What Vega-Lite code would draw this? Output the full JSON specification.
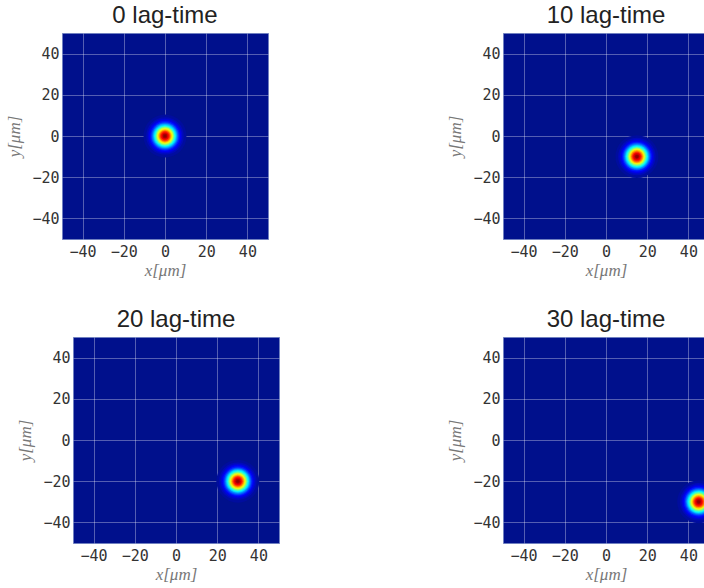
{
  "$schema": "https://vega.github.io/schema/vega-lite/v6.json",
  "padding": {"left": 5, "top": 3, "right": 0, "bottom": 0},
  "background": "white",
  "config": {
    "view": {"fill": "#00108c", "stroke": "#7080c0", "strokeWidth": 1},
    "axis": {"grid": true, "gridColor": "#ffffff", "gridOpacity": 0.33, "gridWidth": 1, "ticks": false, "domain": false, "labelFont": "DejaVu Sans Mono", "labelFontSize": 15, "labelColor": "#333333", "labelOverlap": false, "titleFont": "Liberation Serif", "titleFontStyle": "italic", "titleFontWeight": "normal", "titleFontSize": 17, "titleColor": "#777777", "zindex": 1},
    "axisX": {"labelPadding": 5, "titlePadding": 3},
    "axisY": {"labelPadding": 3, "titlePadding": 8},
    "title": {"font": "Liberation Sans", "fontSize": 24, "fontWeight": "normal", "color": "#222222", "offset": 5}
  },
  "datasets": {
    "blobs": [
      {"lag":0,"x":0,"y":0,"level":0.02,"r":11.75},{"lag":0,"x":0,"y":0,"level":0.05,"r":10.28},{"lag":0,"x":0,"y":0,"level":0.08,"r":9.44},{"lag":0,"x":0,"y":0,"level":0.11,"r":8.82},{"lag":0,"x":0,"y":0,"level":0.15,"r":8.18},{"lag":0,"x":0,"y":0,"level":0.2,"r":7.54},{"lag":0,"x":0,"y":0,"level":0.25,"r":7.00},{"lag":0,"x":0,"y":0,"level":0.3,"r":6.52},{"lag":0,"x":0,"y":0,"level":0.35,"r":6.09},{"lag":0,"x":0,"y":0,"level":0.4,"r":5.68},{"lag":0,"x":0,"y":0,"level":0.45,"r":5.31},{"lag":0,"x":0,"y":0,"level":0.5,"r":4.94},{"lag":0,"x":0,"y":0,"level":0.55,"r":4.60},{"lag":0,"x":0,"y":0,"level":0.6,"r":4.24},{"lag":0,"x":0,"y":0,"level":0.65,"r":3.90},{"lag":0,"x":0,"y":0,"level":0.7,"r":3.55},{"lag":0,"x":0,"y":0,"level":0.75,"r":3.18},{"lag":0,"x":0,"y":0,"level":0.8,"r":2.81},{"lag":0,"x":0,"y":0,"level":0.85,"r":2.40},{"lag":0,"x":0,"y":0,"level":0.9,"r":1.92},{"lag":0,"x":0,"y":0,"level":0.95,"r":1.35},{"lag":0,"x":0,"y":0,"level":0.98,"r":0.84},
      {"lag":10,"x":15,"y":-10,"level":0.02,"r":11.75},{"lag":10,"x":15,"y":-10,"level":0.05,"r":10.28},{"lag":10,"x":15,"y":-10,"level":0.08,"r":9.44},{"lag":10,"x":15,"y":-10,"level":0.11,"r":8.82},{"lag":10,"x":15,"y":-10,"level":0.15,"r":8.18},{"lag":10,"x":15,"y":-10,"level":0.2,"r":7.54},{"lag":10,"x":15,"y":-10,"level":0.25,"r":7.00},{"lag":10,"x":15,"y":-10,"level":0.3,"r":6.52},{"lag":10,"x":15,"y":-10,"level":0.35,"r":6.09},{"lag":10,"x":15,"y":-10,"level":0.4,"r":5.68},{"lag":10,"x":15,"y":-10,"level":0.45,"r":5.31},{"lag":10,"x":15,"y":-10,"level":0.5,"r":4.94},{"lag":10,"x":15,"y":-10,"level":0.55,"r":4.60},{"lag":10,"x":15,"y":-10,"level":0.6,"r":4.24},{"lag":10,"x":15,"y":-10,"level":0.65,"r":3.90},{"lag":10,"x":15,"y":-10,"level":0.7,"r":3.55},{"lag":10,"x":15,"y":-10,"level":0.75,"r":3.18},{"lag":10,"x":15,"y":-10,"level":0.8,"r":2.81},{"lag":10,"x":15,"y":-10,"level":0.85,"r":2.40},{"lag":10,"x":15,"y":-10,"level":0.9,"r":1.92},{"lag":10,"x":15,"y":-10,"level":0.95,"r":1.35},{"lag":10,"x":15,"y":-10,"level":0.98,"r":0.84},
      {"lag":20,"x":30,"y":-20,"level":0.02,"r":11.75},{"lag":20,"x":30,"y":-20,"level":0.05,"r":10.28},{"lag":20,"x":30,"y":-20,"level":0.08,"r":9.44},{"lag":20,"x":30,"y":-20,"level":0.11,"r":8.82},{"lag":20,"x":30,"y":-20,"level":0.15,"r":8.18},{"lag":20,"x":30,"y":-20,"level":0.2,"r":7.54},{"lag":20,"x":30,"y":-20,"level":0.25,"r":7.00},{"lag":20,"x":30,"y":-20,"level":0.3,"r":6.52},{"lag":20,"x":30,"y":-20,"level":0.35,"r":6.09},{"lag":20,"x":30,"y":-20,"level":0.4,"r":5.68},{"lag":20,"x":30,"y":-20,"level":0.45,"r":5.31},{"lag":20,"x":30,"y":-20,"level":0.5,"r":4.94},{"lag":20,"x":30,"y":-20,"level":0.55,"r":4.60},{"lag":20,"x":30,"y":-20,"level":0.6,"r":4.24},{"lag":20,"x":30,"y":-20,"level":0.65,"r":3.90},{"lag":20,"x":30,"y":-20,"level":0.7,"r":3.55},{"lag":20,"x":30,"y":-20,"level":0.75,"r":3.18},{"lag":20,"x":30,"y":-20,"level":0.8,"r":2.81},{"lag":20,"x":30,"y":-20,"level":0.85,"r":2.40},{"lag":20,"x":30,"y":-20,"level":0.9,"r":1.92},{"lag":20,"x":30,"y":-20,"level":0.95,"r":1.35},{"lag":20,"x":30,"y":-20,"level":0.98,"r":0.84},
      {"lag":30,"x":45,"y":-30,"level":0.02,"r":11.75},{"lag":30,"x":45,"y":-30,"level":0.05,"r":10.28},{"lag":30,"x":45,"y":-30,"level":0.08,"r":9.44},{"lag":30,"x":45,"y":-30,"level":0.11,"r":8.82},{"lag":30,"x":45,"y":-30,"level":0.15,"r":8.18},{"lag":30,"x":45,"y":-30,"level":0.2,"r":7.54},{"lag":30,"x":45,"y":-30,"level":0.25,"r":7.00},{"lag":30,"x":45,"y":-30,"level":0.3,"r":6.52},{"lag":30,"x":45,"y":-30,"level":0.35,"r":6.09},{"lag":30,"x":45,"y":-30,"level":0.4,"r":5.68},{"lag":30,"x":45,"y":-30,"level":0.45,"r":5.31},{"lag":30,"x":45,"y":-30,"level":0.5,"r":4.94},{"lag":30,"x":45,"y":-30,"level":0.55,"r":4.60},{"lag":30,"x":45,"y":-30,"level":0.6,"r":4.24},{"lag":30,"x":45,"y":-30,"level":0.65,"r":3.90},{"lag":30,"x":45,"y":-30,"level":0.7,"r":3.55},{"lag":30,"x":45,"y":-30,"level":0.75,"r":3.18},{"lag":30,"x":45,"y":-30,"level":0.8,"r":2.81},{"lag":30,"x":45,"y":-30,"level":0.85,"r":2.40},{"lag":30,"x":45,"y":-30,"level":0.9,"r":1.92},{"lag":30,"x":45,"y":-30,"level":0.95,"r":1.35},{"lag":30,"x":45,"y":-30,"level":0.98,"r":0.84}
    ]
  },
  "spacing": 28,
  "vconcat": [
    {
      "spacing": 177,
      "hconcat": [
        {
          "title": "0 lag-time", "width": 206, "height": 206,
          "data": {"name": "blobs"},
          "transform": [{"filter": "datum.lag == 0"}],
          "mark": {"type": "circle", "opacity": 1, "strokeWidth": 0, "clip": true},
          "encoding": {
            "x": {"field": "x", "type": "quantitative", "scale": {"domain": [-50, 50], "nice": false}, "axis": {"title": "x[μm]", "values": [-40, -20, 0, 20, 40]}},
            "y": {"field": "y", "type": "quantitative", "scale": {"domain": [-50, 50], "nice": false}, "axis": {"title": "y[μm]", "values": [-40, -20, 0, 20, 40]}},
            "size": {"field": "r", "type": "quantitative", "scale": {"type": "pow", "exponent": 2, "domain": [0, 10], "range": [0, 1333]}, "legend": null},
            "color": {"field": "level", "type": "quantitative", "scale": {"domain": [0, 0.125, 0.375, 0.625, 0.875, 1], "range": ["#00108c", "#0000ff", "#00ffff", "#ffff00", "#ff0000", "#7f0000"], "interpolate": "rgb"}, "legend": null},
            "order": {"field": "level", "type": "quantitative", "sort": "ascending"}
          }
        },
        {
          "title": "10 lag-time", "width": 206, "height": 206,
          "data": {"name": "blobs"},
          "transform": [{"filter": "datum.lag == 10"}],
          "mark": {"type": "circle", "opacity": 1, "strokeWidth": 0, "clip": true},
          "encoding": {
            "x": {"field": "x", "type": "quantitative", "scale": {"domain": [-50, 50], "nice": false}, "axis": {"title": "x[μm]", "values": [-40, -20, 0, 20, 40]}},
            "y": {"field": "y", "type": "quantitative", "scale": {"domain": [-50, 50], "nice": false}, "axis": {"title": "y[μm]", "values": [-40, -20, 0, 20, 40]}},
            "size": {"field": "r", "type": "quantitative", "scale": {"type": "pow", "exponent": 2, "domain": [0, 10], "range": [0, 1333]}, "legend": null},
            "color": {"field": "level", "type": "quantitative", "scale": {"domain": [0, 0.125, 0.375, 0.625, 0.875, 1], "range": ["#00108c", "#0000ff", "#00ffff", "#ffff00", "#ff0000", "#7f0000"], "interpolate": "rgb"}, "legend": null},
            "order": {"field": "level", "type": "quantitative", "sort": "ascending"}
          }
        }
      ]
    },
    {
      "spacing": 166,
      "hconcat": [
        {
          "spacing": -50,
          "hconcat": [
            {
              "width": 1, "height": 10,
              "view": {"stroke": null, "fill": null},
              "data": {"values": [{"a": 0}]},
              "mark": {"type": "point", "opacity": 0},
              "encoding": {}
            },
            {
              "title": "20 lag-time", "width": 206, "height": 206,
              "data": {"name": "blobs"},
              "transform": [{"filter": "datum.lag == 20"}],
              "mark": {"type": "circle", "opacity": 1, "strokeWidth": 0, "clip": true},
              "encoding": {
                "x": {"field": "x", "type": "quantitative", "scale": {"domain": [-50, 50], "nice": false}, "axis": {"title": "x[μm]", "values": [-40, -20, 0, 20, 40]}},
                "y": {"field": "y", "type": "quantitative", "scale": {"domain": [-50, 50], "nice": false}, "axis": {"title": "y[μm]", "values": [-40, -20, 0, 20, 40]}},
                "size": {"field": "r", "type": "quantitative", "scale": {"type": "pow", "exponent": 2, "domain": [0, 10], "range": [0, 1333]}, "legend": null},
                "color": {"field": "level", "type": "quantitative", "scale": {"domain": [0, 0.125, 0.375, 0.625, 0.875, 1], "range": ["#00108c", "#0000ff", "#00ffff", "#ffff00", "#ff0000", "#7f0000"], "interpolate": "rgb"}, "legend": null},
                "order": {"field": "level", "type": "quantitative", "sort": "ascending"}
              }
            }
          ]
        },
        {
          "title": "30 lag-time", "width": 206, "height": 206,
          "data": {"name": "blobs"},
          "transform": [{"filter": "datum.lag == 30"}],
          "mark": {"type": "circle", "opacity": 1, "strokeWidth": 0, "clip": true},
          "encoding": {
            "x": {"field": "x", "type": "quantitative", "scale": {"domain": [-50, 50], "nice": false}, "axis": {"title": "x[μm]", "values": [-40, -20, 0, 20, 40]}},
            "y": {"field": "y", "type": "quantitative", "scale": {"domain": [-50, 50], "nice": false}, "axis": {"title": "y[μm]", "values": [-40, -20, 0, 20, 40]}},
            "size": {"field": "r", "type": "quantitative", "scale": {"type": "pow", "exponent": 2, "domain": [0, 10], "range": [0, 1333]}, "legend": null},
            "color": {"field": "level", "type": "quantitative", "scale": {"domain": [0, 0.125, 0.375, 0.625, 0.875, 1], "range": ["#00108c", "#0000ff", "#00ffff", "#ffff00", "#ff0000", "#7f0000"], "interpolate": "rgb"}, "legend": null},
            "order": {"field": "level", "type": "quantitative", "sort": "ascending"}
          }
        }
      ]
    }
  ]
}
